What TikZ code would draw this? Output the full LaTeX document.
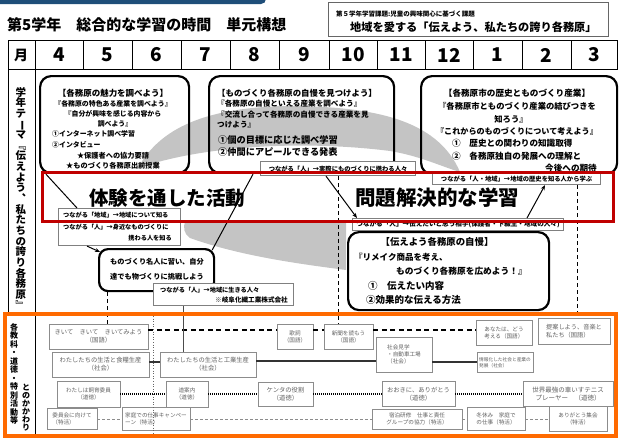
\documentclass[tikz,border=0pt]{standalone}
\usepackage{fontspec}
\usepackage{graphicx}
\setmainfont{Noto Sans CJK JP}
\usetikzlibrary{arrows.meta,calc}
\definecolor{bandred}{HTML}{C00000}
\definecolor{frameorange}{HTML}{FF6A00}
\definecolor{topnavy}{HTML}{1F4E79}
\definecolor{swooshgray}{HTML}{C4C4C4}
\newcommand{\fz}[2]{\fontsize{#1}{#2}\selectfont}
\newcommand{\vbar}{\rotatebox[origin=c]{-90}{ー}}
\begin{document}
\begin{tikzpicture}[x=1pt,y=-1pt,
  bigbox/.style={draw=black, line width=2.2pt, rounded corners=11pt, inner sep=0pt},
  tagbox/.style={draw=black!50, fill=white, line width=1.1pt, inner sep=1pt, font=\bfseries\fz{6.3}{7}},
  tagtxt/.style={inner sep=0pt, font=\bfseries\fz{6.2}{7}},
  subbox/.style={draw=black!45, fill=white, line width=0.7pt, inner sep=1pt, text=black!62, align=center, font=\fz{5.6}{7}},
  hdr/.style={font=\bfseries\fz{19}{20}, inner sep=0pt},
  tx/.style={inner sep=0pt},
  link/.style={line width=1pt},
  vdash/.style={line width=1pt, dash pattern=on 4pt off 3pt},
  arr/.style={line width=1pt, -{Stealth[length=5pt,width=4pt]}},
]
\useasboundingbox (0,0) rectangle (619,439);
% top navy bar
\fill[topnavy, rounded corners=5pt] (-10,-20) rectangle (266,4);
% title
\node[anchor=west, font=\bfseries\fz{15}{16}, inner sep=0pt] (title) at (7,25) {第5学年　総合的な学習の時間　単元構想};
% theme box
\node[draw=black!60, line width=0.8pt, minimum width=280, minimum height=34, anchor=north west] (theme) at (328,2) {};
\node[anchor=west, font=\bfseries\fz{6.5}{7}, tx] (theme1) at (336,14) {第５学年学習課題:児童の興味関心に基づく課題};
\node[anchor=west, font=\bfseries\fz{11.2}{12}, tx] (theme2) at (350,27) {地域を愛する「伝えよう、私たちの誇り各務原」};
% header row
\draw[line width=0.8pt] (8,40) rectangle (617,69);
\foreach \xx in {35,83,132,181,230,279,329,377,425,473,522,571}
  \draw[line width=0.7pt] (\xx,40) -- (\xx,69);
\node[font=\bfseries\fz{14}{15}, tx] (mon) at (21,55) {月};
\foreach \xx/\mm in {59/4,107.5/5,156.5/6,205.5/7,254.5/8,304/9,353/10,401/11,449/12,497.5/1,546.5/2,594/3}
  \node[hdr] (m\mm) at (\xx,55) {\mm};
% body frame
\draw[line width=0.8pt] (8,69) -- (8,314);
\draw[line width=0.8pt] (35,69) -- (35,314);
% vertical theme text
\node[font=\bfseries\fz{10.5}{10.65}, align=center, inner sep=0pt] (vtheme) at (21,198) {学\\年\\テ\\\vbar\\マ\\﹃\\伝\\え\\よ\\う\\︑\\私\\た\\ち\\の\\誇\\り\\各\\務\\原\\﹄};
% gray swooshes
\fill[swooshgray] (138,168) .. controls (160,128) and (205,108) .. (285,106) .. controls (370,106) and (437,118) .. (460,172) .. controls (440,166) and (420,156) .. (390,151) .. controls (320,142) and (215,142) .. (138,168) -- cycle;
\fill[swooshgray] (185,221) .. controls (183,228) and (184,234) .. (190,238) .. controls (240,256) and (300,264) .. (346,270) -- (346,221) -- cycle;
% big boxes top
\node[bigbox, minimum width=149, minimum height=97, anchor=north west] (box1) at (39,75) {};
\node[bigbox, minimum width=185, minimum height=97, anchor=north west] (box2) at (208,75) {};
\node[bigbox, minimum width=196, minimum height=98, anchor=north west] (box3) at (420,75) {};
% box1 text
\node[tx, font=\bfseries\fz{8.5}{9}] (b1a) at (113,93) {【各務原の魅力を調べよう】};
\node[tx, font=\bfseries\fz{6.9}{8}] (b1b) at (113,104) {『各務原の特色ある産業を調べよう』};
\node[tx, font=\bfseries\fz{6.9}{8}] (b1c) at (113,114) {『自分が興味を感じる内容から};
\node[tx, font=\bfseries\fz{6.9}{8}] (b1d) at (115,124) {調べよう』};
\node[tx, font=\bfseries\fz{6.9}{8}, anchor=west] (b1e) at (52,134) {①インターネット調べ学習};
\node[tx, font=\bfseries\fz{6.9}{8}, anchor=west] (b1f) at (52,145) {②インタビュー};
\node[tx, font=\bfseries\fz{7.2}{8}] (b1g) at (113,156) {★保護者への協力要請};
\node[tx, font=\bfseries\fz{7.2}{8}] (b1h) at (113,166) {★ものづくり各務原出前授業};
% box2 text
\node[tx, font=\bfseries\fz{8.4}{9}, anchor=west] (b2a) at (217,93) {【ものづくり各務原の自慢を見つけよう】};
\node[tx, font=\bfseries\fz{7.6}{8}, anchor=west] (b2b) at (217,104) {『各務原の自慢といえる産業を調べよう』};
\node[tx, font=\bfseries\fz{7.6}{8}, anchor=west] (b2c) at (217,115) {『交流し合って各務原の自慢できる産業を見};
\node[tx, font=\bfseries\fz{7.6}{8}, anchor=west] (b2d) at (217,125) {つけよう』};
\node[tx, font=\bfseries\fz{9.2}{10}, anchor=west] (b2e) at (218,140) {①個の目標に応じた調べ学習};
\node[tx, font=\bfseries\fz{9.2}{10}, anchor=west] (b2f) at (218,152) {②仲間にアピールできる発表};
% box3 text
\node[tx, font=\bfseries\fz{8.6}{9}] (b3a) at (517,93) {【各務原市の歴史とものづくり産業】};
\node[tx, font=\bfseries\fz{8.3}{9}] (b3b) at (517,106) {『各務原市とものづくり産業の結びつきを};
\node[tx, font=\bfseries\fz{8.3}{9}] (b3c) at (511,119) {知ろう』};
\node[tx, font=\bfseries\fz{8.1}{9}] (b3d) at (517,131) {『これからのものづくりについて考えよう』};
\node[tx, font=\bfseries\fz{8.6}{9}, anchor=west] (b3e) at (452,143) {①　歴史との関わりの知識取得};
\node[tx, font=\bfseries\fz{8.6}{9}, anchor=west] (b3f) at (452,156) {②　各務原独自の発展への理解と};
\node[tx, font=\bfseries\fz{8.6}{9}, anchor=east] (b3g) at (597,168) {今後への期待};
% red band fill
\fill[white] (42,172) rectangle (613,221);
% tag boxes crossing the band
\node[tagbox, minimum width=155, minimum height=14, anchor=north west] (s1) at (260,161) {つながる「人」→実際にものづくりに携わる人々};
\node[tagbox, minimum width=122, minimum height=37, anchor=north west] (s3) at (58,208) {};
\node[tagtxt, anchor=west] (s3a) at (63,215) {つながる「地域」→地域について知る};
\node[tagtxt, anchor=west] (s3b) at (63,227) {つながる「人」→身近なものづくりに};
\node[tagtxt, anchor=east] (s3c) at (172,238) {携わる人を知る};
\node[tagbox, font=\bfseries\fz{6.6}{7}, minimum width=211, minimum height=12, anchor=north west] (s4) at (352,218) {つながる「人」→伝えたいと思う相手(保護者・下級生・地域の人々)};
\node[tagbox, minimum width=168, minimum height=11, anchor=north west] (s2) at (432,173) {つながる「人・地域」→地域の歴史を知る人から学ぶ};
% band titles
\node[tx, font=\bfseries\fz{19.5}{20}] (keiken) at (167,198) {体験を通した活動};
\node[tx, font=\bfseries\fz{20.5}{21}] (mondai) at (437,198) {問題解決的な学習};
% lower boxes
\node[bigbox, rounded corners=9pt, fill=white, minimum width=115, minimum height=42, anchor=north west] (box4) at (98,248) {};
\node[tx, font=\bfseries\fz{7.2}{8}, anchor=west] (b4a) at (110,262) {ものづくり名人に習い、自分};
\node[tx, font=\bfseries\fz{7.2}{8}, anchor=west] (b4b) at (110,277) {達でも物づくりに挑戦しよう};
\node[bigbox, fill=white, minimum width=201, minimum height=78, anchor=north west] (box5) at (347,231) {};
\node[tx, font=\bfseries\fz{9.4}{10}] (b5a) at (437,242) {【伝えよう各務原の自慢】};
\node[tx, font=\bfseries\fz{8.5}{9}, anchor=west] (b5b) at (354,257) {『リメイク商品を考え、};
\node[tx, font=\bfseries\fz{8.7}{9}, anchor=west] (b5c) at (396,271) {ものづくり各務原を広めよう！』};
\node[tx, font=\bfseries\fz{9.5}{10}, anchor=west] (b5d) at (368,286) {①　伝えたい内容};
\node[tx, font=\bfseries\fz{9.5}{10}, anchor=west] (b5e) at (366,300) {②効果的な伝える方法};
\node[tagbox, minimum width=140, minimum height=22, anchor=north west] (s5) at (153,283) {};
\node[tagtxt, anchor=west] (s5a) at (160,290) {つながる「人」→地域に生きる人々};
\node[tagtxt, anchor=east, font=\bfseries\fz{6.6}{7}] (s5b) at (288,300) {※岐阜化繊工業株式会社};
% bottom section boxes
\node[subbox, font=\fz{6.3}{8}, minimum width=99, minimum height=25] (a) at (98.5,336.5) {きいて　きいて　きいてみよう\\（国語）};
\node[subbox, minimum width=36, minimum height=25] (b) at (295,336.5) {歌詞\\（国語）};
\node[subbox, minimum width=49, minimum height=25] (c) at (348.5,336.5) {新聞を読もう\\（国語）};
\node[subbox, align=left, minimum width=56, minimum height=25] (d) at (504,332.5) {あなたは、どう\\考える（国語）};
\node[subbox, align=left, font=\fz{6.2}{8}, minimum width=72, minimum height=26] (e) at (574,331) {提案しよう、音楽と\\私たち（国語）};
\node[subbox, font=\fz{6.3}{8}, minimum width=97, minimum height=25] (f) at (100.5,364.5) {わたしたちの生活と食糧生産\\（社会）};
\node[subbox, font=\fz{6.3}{8}, minimum width=96, minimum height=25] (g) at (208,364.5) {わたしたちの生活と工業生産\\（社会）};
\node[subbox, align=left, minimum width=56, minimum height=35] (h) at (404,354.5) {社会見学\\・自動車工場\\（社会）};
\node[subbox, align=left, font=\fz{4.7}{6.5}, minimum width=56, minimum height=20] (i) at (505,362.5) {情報化した社会と産業の\\発展（社会）};
\node[subbox, minimum width=63, minimum height=26] (j) at (88.5,394) {わたしは飼育委員\\（道徳）};
\node[subbox, minimum width=42, minimum height=26] (k) at (187,394) {道案内\\（道徳）};
\node[subbox, font=\fz{6.3}{8}, minimum width=55, minimum height=24] (l) at (285.5,394) {ケンタの役割\\（道徳）};
\node[subbox, font=\fz{6.3}{8}, minimum width=73, minimum height=25] (m) at (418.5,394) {おおきに、ありがとう\\（道徳）};
\node[subbox, font=\fz{6.5}{8}, minimum width=90, minimum height=25] (n) at (568,394) {世界最強の車いすテニス\\プレーヤー　（道徳）};
\node[subbox, align=left, minimum width=50, minimum height=21] (o) at (72,419) {委員会に向けて\\（特活）};
\node[subbox, align=left, minimum width=68, minimum height=23] (p) at (156,419) {家庭での仕事キャンペー\\ーン（特活）};
\node[subbox, minimum width=90, minimum height=20] (q) at (417,419) {宿泊研修　仕事と責任\\グループの協力（特活）};
\node[subbox, align=left, minimum width=58, minimum height=23] (r) at (496,419) {冬休み　家庭で\\の仕事（特活）};
\node[subbox, minimum width=58, minimum height=25] (s) at (578,419) {ありがとう集会\\（特活）};
% bottom connectors
\draw[line width=1.3pt, dash pattern=on 5pt off 3.5pt] ([yshift=6.5pt]a.east) -- ([yshift=6.5pt]b.west);
\draw[line width=1.3pt, dash pattern=on 5pt off 3.5pt] ([yshift=6.5pt]b.east) -- ([yshift=6.5pt]c.west);
\draw[line width=1.3pt, dash pattern=on 5pt off 3.5pt] ([yshift=6.5pt]c.east) -- ([yshift=2.5pt]d.west);
\draw[line width=1.2pt, black!80] ([yshift=2.5pt]f.east) -- ([yshift=2.5pt]g.west);
\draw[line width=1.2pt, black!80] ([yshift=3.5pt]g.east) -- ([yshift=-6.5pt]h.west);
\draw[line width=1.2pt, black!80] ([yshift=-7.5pt]h.east) -- ([yshift=0.5pt]i.west);
\foreach \p/\q in {j/k,k/l,l/m,m/n}
  \draw[line width=1.6pt, dash pattern=on 1pt off 1pt] (\p.east) -- (\q.west);
\foreach \p/\q in {o/p,p/q,q/r,r/s}
  \draw[line width=0.6pt, black!45, dash pattern=on 3pt off 2pt] (\p.east) -- (\q.west);
% upper connectors
\draw[link] ($(box1.south west)+(7,0)$) -- ($(s3.north west)+(19,0)$);
\draw[arr] ($(s3.south west)+(29,0)$) -- ($(box4.north west)+(2,4)$);
\draw[link] ($(box2.south west)+(45,0)$) -- ($(box4.north east)+(-3,2)$);
\draw[arr] ($(s1.south west)+(66,0)$) -- ($(s4.north west)+(5,0)$);
\draw[arr] ($(s4.north west)+(175,0)$) -- ($(s2.south west)+(113,0)$);
\coordinate (d1top) at (s1.south);
\draw[vdash] (d1top) -- (d1top |- c.north);
\coordinate (d2top) at ($(s2.south west)+(145,0)$);
\draw[vdash] (d2top) -- (d2top |- e.north);
\coordinate (d3top) at ($(box4.south west)+(9,0)$);
\draw[vdash] (d3top) -- (d3top |- a.north);
\coordinate (d4top) at ($(s5.south west)+(30,0)$);
\draw[line width=1pt, black!70] (d4top) -- (d4top |- g.north);
% red band stroke
\draw[bandred, line width=3pt] (42,172) rectangle (613,221);
% bottom frame
\draw[black!60, dotted, line width=0.6pt] (153,316) -- (153,435);
\draw[line width=0.8pt] (35,314) -- (35,436);
\node[font=\bfseries\fz{8}{8.5}, align=center, inner sep=0pt] (vsub1) at (14,374) {各\\教\\科\\・\\道\\徳\\・\\特\\別\\活\\動\\等};
\node[font=\bfseries\fz{8}{8}, align=center, inner sep=0pt] (vsub2) at (26,408) {と\\の\\か\\か\\わ\\り};
\draw[frameorange, line width=3.5pt] (5,314) rectangle (616,436);
\end{tikzpicture}
\end{document}
